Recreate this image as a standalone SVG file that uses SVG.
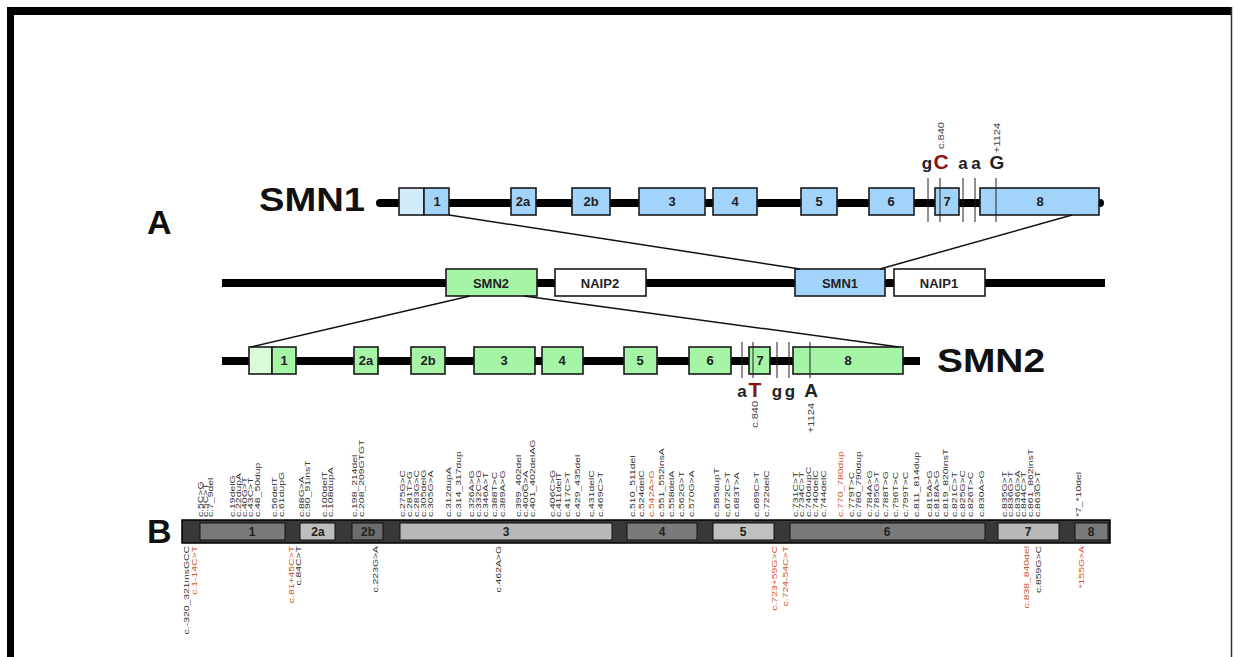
<svg xmlns="http://www.w3.org/2000/svg" width="1234" height="657" viewBox="0 0 1234 657">
<style>
text{font-family:"Liberation Sans",Arial,sans-serif}
.big{font-size:34px;font-weight:bold;fill:#111}
.ex{font-size:13px;font-weight:bold;fill:#222;text-anchor:middle}
.bx{font-size:13px;font-weight:bold;fill:#222;text-anchor:middle}
.b1{fill:#a2d4fb;stroke:#1a1a1a;stroke-width:1.6}
.b1l{fill:#d2ebfd;stroke:#1a1a1a;stroke-width:1.6}
.g1{fill:#a6f5a6;stroke:#1a1a1a;stroke-width:1.6}
.g1l{fill:#d9fbd9;stroke:#1a1a1a;stroke-width:1.6}
.w1{fill:#fff;stroke:#1a1a1a;stroke-width:1.6}
.chr{stroke:#000;stroke-width:8}
.vl{stroke:#222;stroke-width:1}
.nt{font-size:17px;font-weight:bold;fill:#222;text-anchor:middle}
.ntr{font-size:21px;font-weight:bold;fill:#8b1010;text-anchor:middle}
.pos{font-size:10px;fill:#444}
.m{font-size:8px;fill:#333}
.r{font-size:8px;fill:#d2552a}
.bn{font-size:12px;font-weight:bold;fill:#222;text-anchor:middle}
.conn{stroke:#111;stroke-width:1.5;fill:none}
</style>
<rect width="1234" height="657" fill="#fff"/>
<g id="frame">
<rect x="7" y="7" width="1225" height="8" fill="#000"/>
<rect x="7" y="7" width="7" height="650" fill="#000"/>
<line x1="1231.5" y1="7" x2="1231.5" y2="657" stroke="#333" stroke-width="1.5"/>
</g>
<text class="big" x="147" y="234">A</text>
<text class="big" x="147" y="543">B</text>

<g id="smn1-gene">
<line class="chr" x1="380" y1="203" x2="1100" y2="203" stroke-linecap="round"/>
<text class="big" x="259" y="211" textLength="106" lengthAdjust="spacingAndGlyphs">SMN1</text>
<rect class="b1l" x="399" y="188" width="25" height="27"/>
<rect class="b1" x="424" y="188" width="25" height="27"/><text class="ex" x="437" y="206">1</text>
<rect class="b1" x="511" y="188" width="25" height="27"/><text class="ex" x="523" y="206">2a</text>
<rect class="b1" x="572" y="188" width="38" height="27"/><text class="ex" x="591" y="206">2b</text>
<rect class="b1" x="639" y="188" width="66" height="27"/><text class="ex" x="672" y="206">3</text>
<rect class="b1" x="713" y="188" width="44" height="27"/><text class="ex" x="735" y="206">4</text>
<rect class="b1" x="801" y="188" width="36" height="27"/><text class="ex" x="819" y="206">5</text>
<rect class="b1" x="869" y="188" width="45" height="27"/><text class="ex" x="891" y="206">6</text>
<rect class="b1" x="935" y="188" width="24" height="27"/><text class="ex" x="947" y="206">7</text>
<rect class="b1" x="980" y="188" width="119" height="27"/><text class="ex" x="1040" y="206">8</text>
<line class="vl" x1="928" y1="178" x2="928" y2="222"/>
<line class="vl" x1="940" y1="178" x2="940" y2="222"/>
<line class="vl" x1="963" y1="178" x2="963" y2="222"/>
<line class="vl" x1="975" y1="178" x2="975" y2="222"/>
<line class="vl" x1="996" y1="178" x2="996" y2="222"/>
<text class="nt" x="927" y="169">g</text>
<text class="ntr" x="941" y="169">C</text>
<text class="nt" x="963" y="169">a</text>
<text class="nt" x="976" y="169">a</text>
<text class="nt" x="997" y="169" style="font-size:19px">G</text>
<text class="pos" transform="translate(944,149) rotate(-90) scale(1.1,0.85)">c.840</text>
<text class="pos" transform="translate(1000,153) rotate(-90) scale(1.1,0.85)">+1124</text>
</g>

<g id="region">
<line class="chr" x1="222" y1="283" x2="1105" y2="283" stroke-width="7"/>
</g>
<g id="box-smn2"><rect class="g1" x="446" y="269" width="91" height="27"/><text class="bx" x="491" y="288">SMN2</text></g>
<g id="box-naip2"><rect class="w1" x="555" y="269" width="91" height="27"/><text class="bx" x="600" y="288">NAIP2</text></g>
<g id="box-smn1"><rect class="b1" x="795" y="269" width="90" height="27"/><text class="bx" x="840" y="288">SMN1</text></g>
<g id="box-naip1"><rect class="w1" x="894" y="269" width="91" height="27"/><text class="bx" x="939" y="288">NAIP1</text></g>

<g id="smn2-gene">
<line class="chr" x1="222" y1="361" x2="920" y2="361"/>
<text class="big" x="937" y="372" textLength="108" lengthAdjust="spacingAndGlyphs">SMN2</text>
<rect class="g1l" x="249" y="347" width="23" height="27"/>
<rect class="g1" x="272" y="347" width="24" height="27"/><text class="ex" x="284" y="365">1</text>
<rect class="g1" x="354" y="347" width="24" height="27"/><text class="ex" x="366" y="365">2a</text>
<rect class="g1" x="411" y="347" width="34" height="27"/><text class="ex" x="428" y="365">2b</text>
<rect class="g1" x="474" y="347" width="61" height="27"/><text class="ex" x="504" y="365">3</text>
<rect class="g1" x="542" y="347" width="41" height="27"/><text class="ex" x="562" y="365">4</text>
<rect class="g1" x="624" y="347" width="33" height="27"/><text class="ex" x="640" y="365">5</text>
<rect class="g1" x="689" y="347" width="42" height="27"/><text class="ex" x="710" y="365">6</text>
<rect class="g1" x="749" y="347" width="21" height="27"/><text class="ex" x="760" y="365">7</text>
<rect class="g1" x="793" y="347" width="110" height="27"/><text class="ex" x="848" y="365">8</text>
<line class="vl" x1="742" y1="342" x2="742" y2="378"/>
<line class="vl" x1="753" y1="342" x2="753" y2="378"/>
<line class="vl" x1="777" y1="342" x2="777" y2="378"/>
<line class="vl" x1="789" y1="342" x2="789" y2="378"/>
<line class="vl" x1="810" y1="342" x2="810" y2="378"/>
<text class="nt" x="742" y="397">a</text>
<text class="ntr" x="755" y="397">T</text>
<text class="nt" x="777" y="397">g</text>
<text class="nt" x="790" y="397">g</text>
<text class="nt" x="811" y="397" style="font-size:19px">A</text>
<text class="pos" text-anchor="end" transform="translate(758,401) rotate(-90) scale(1.1,0.85)">c.840</text>
<text class="pos" text-anchor="end" transform="translate(814,403) rotate(-90) scale(1.1,0.85)">+1124</text>
</g>

<g id="connectors">
<line class="conn" x1="449" y1="215" x2="800" y2="269"/>
<line class="conn" x1="1072" y1="215" x2="880" y2="269"/>
<line class="conn" x1="470" y1="296" x2="251" y2="347"/>
<line class="conn" x1="524" y1="296" x2="899" y2="347"/>
</g>

<g id="smn1-map">
<rect x="182" y="520" width="928" height="23" fill="#383838" stroke="#000" stroke-width="1.5"/>
<g stroke="#111" stroke-width="1">
<rect x="200" y="523" width="85" height="17" fill="#7a7a7a"/>
<rect x="300" y="523" width="35" height="17" fill="#bdbdbd"/>
<rect x="352" y="523" width="31" height="17" fill="#6c6c6c"/>
<rect x="400" y="523" width="212" height="17" fill="#b8b8b8"/>
<rect x="627" y="523" width="70" height="17" fill="#7a7a7a"/>
<rect x="713" y="523" width="61" height="17" fill="#c0c0c0"/>
<rect x="790" y="523" width="195" height="17" fill="#7a7a7a"/>
<rect x="998" y="523" width="61" height="17" fill="#b8b8b8"/>
<rect x="1075" y="523" width="33" height="17" fill="#7a7a7a"/>
</g>
<text class="bn" x="252" y="536">1</text>
<text class="bn" x="318" y="536">2a</text>
<text class="bn" x="368" y="536">2b</text>
<text class="bn" x="506" y="536">3</text>
<text class="bn" x="662" y="536">4</text>
<text class="bn" x="743" y="536">5</text>
<text class="bn" x="887" y="536">6</text>
<text class="bn" x="1028" y="536">7</text>
<text class="bn" x="1091" y="536">8</text>
</g>

<g id="labels-above">
<text class="m" transform="translate(203,517) rotate(-90) scale(1.3,0.9)">c.5C&gt;G</text>
<text class="m" transform="translate(208,517) rotate(-90) scale(1.3,0.9)">c.5C&gt;T</text>
<text class="m" transform="translate(213,517) rotate(-90) scale(1.3,0.9)">c.7_9del</text>
<text class="m" transform="translate(235,517) rotate(-90) scale(1.3,0.9)">c.19delG</text>
<text class="m" transform="translate(241,517) rotate(-90) scale(1.3,0.9)">c.22dupA</text>
<text class="m" transform="translate(247,517) rotate(-90) scale(1.3,0.9)">c.40G&gt;T</text>
<text class="m" transform="translate(253,517) rotate(-90) scale(1.3,0.9)">c.43C&gt;T</text>
<text class="m" transform="translate(260,517) rotate(-90) scale(1.3,0.9)">c.48_50dup</text>
<text class="m" transform="translate(277,517) rotate(-90) scale(1.3,0.9)">c.56delT</text>
<text class="m" transform="translate(284,517) rotate(-90) scale(1.3,0.9)">c.61dupG</text>
<text class="m" transform="translate(304,517) rotate(-90) scale(1.3,0.9)">c.88G&gt;A</text>
<text class="m" transform="translate(310,517) rotate(-90) scale(1.3,0.9)">c.90_91insT</text>
<text class="m" transform="translate(327,517) rotate(-90) scale(1.3,0.9)">c.100delT</text>
<text class="m" transform="translate(333,517) rotate(-90) scale(1.3,0.9)">c.108dupA</text>
<text class="m" transform="translate(357,517) rotate(-90) scale(1.3,0.9)">c.198_214del</text>
<text class="m" transform="translate(364,517) rotate(-90) scale(1.3,0.9)">c.208_209GTGT</text>
<text class="m" transform="translate(405,517) rotate(-90) scale(1.3,0.9)">c.275G&gt;C</text>
<text class="m" transform="translate(412,517) rotate(-90) scale(1.3,0.9)">c.281T&gt;G</text>
<text class="m" transform="translate(419,517) rotate(-90) scale(1.3,0.9)">c.283G&gt;C</text>
<text class="m" transform="translate(426,517) rotate(-90) scale(1.3,0.9)">c.305delG</text>
<text class="m" transform="translate(433,517) rotate(-90) scale(1.3,0.9)">c.305G&gt;A</text>
<text class="m" transform="translate(451,517) rotate(-90) scale(1.3,0.9)">c.312dupA</text>
<text class="m" transform="translate(461,517) rotate(-90) scale(1.3,0.9)">c.314_317dup</text>
<text class="m" transform="translate(474,517) rotate(-90) scale(1.3,0.9)">c.326A&gt;G</text>
<text class="m" transform="translate(481,517) rotate(-90) scale(1.3,0.9)">c.332C&gt;G</text>
<text class="m" transform="translate(488,517) rotate(-90) scale(1.3,0.9)">c.346A&gt;T</text>
<text class="m" transform="translate(497,517) rotate(-90) scale(1.3,0.9)">c.388T&gt;C</text>
<text class="m" transform="translate(505,517) rotate(-90) scale(1.3,0.9)">c.389A&gt;G</text>
<text class="m" transform="translate(521,517) rotate(-90) scale(1.3,0.9)">c.399_402del</text>
<text class="m" transform="translate(528,517) rotate(-90) scale(1.3,0.9)">c.400G&gt;A</text>
<text class="m" transform="translate(535,517) rotate(-90) scale(1.3,0.9)">c.401_402delAG</text>
<text class="m" transform="translate(555,517) rotate(-90) scale(1.3,0.9)">c.406C&gt;G</text>
<text class="m" transform="translate(561,517) rotate(-90) scale(1.3,0.9)">c.411delT</text>
<text class="m" transform="translate(570,517) rotate(-90) scale(1.3,0.9)">c.417C&gt;T</text>
<text class="m" transform="translate(580,517) rotate(-90) scale(1.3,0.9)">c.429_435del</text>
<text class="m" transform="translate(594,517) rotate(-90) scale(1.3,0.9)">c.431delC</text>
<text class="m" transform="translate(603,517) rotate(-90) scale(1.3,0.9)">c.469C&gt;T</text>
<text class="m" transform="translate(635,517) rotate(-90) scale(1.3,0.9)">c.510_511del</text>
<text class="m" transform="translate(644,517) rotate(-90) scale(1.3,0.9)">c.524delC</text>
<text class="r" transform="translate(654,517) rotate(-90) scale(1.3,0.9)">c.542A&gt;G</text>
<text class="m" transform="translate(664,517) rotate(-90) scale(1.3,0.9)">c.551_552insA</text>
<text class="m" transform="translate(674,517) rotate(-90) scale(1.3,0.9)">c.558delA</text>
<text class="m" transform="translate(684,517) rotate(-90) scale(1.3,0.9)">c.562G&gt;T</text>
<text class="m" transform="translate(694,517) rotate(-90) scale(1.3,0.9)">c.570G&gt;A</text>
<text class="m" transform="translate(719,517) rotate(-90) scale(1.3,0.9)">c.585dupT</text>
<text class="m" transform="translate(730,517) rotate(-90) scale(1.3,0.9)">c.672C&gt;T</text>
<text class="m" transform="translate(739,517) rotate(-90) scale(1.3,0.9)">c.683T&gt;A</text>
<text class="m" transform="translate(759,517) rotate(-90) scale(1.3,0.9)">c.689C&gt;T</text>
<text class="m" transform="translate(769,517) rotate(-90) scale(1.3,0.9)">c.722delC</text>
<text class="m" transform="translate(798,517) rotate(-90) scale(1.3,0.9)">c.731C&gt;T</text>
<text class="m" transform="translate(804,517) rotate(-90) scale(1.3,0.9)">c.734C&gt;T</text>
<text class="m" transform="translate(811,517) rotate(-90) scale(1.3,0.9)">c.740dupC</text>
<text class="m" transform="translate(818,517) rotate(-90) scale(1.3,0.9)">c.740delC</text>
<text class="m" transform="translate(826,517) rotate(-90) scale(1.3,0.9)">c.744delC</text>
<text class="r" transform="translate(843,517) rotate(-90) scale(1.3,0.9)">c.770_780dup</text>
<text class="m" transform="translate(854,517) rotate(-90) scale(1.3,0.9)">c.779T&gt;C</text>
<text class="m" transform="translate(861,517) rotate(-90) scale(1.3,0.9)">c.780_790dup</text>
<text class="m" transform="translate(872,517) rotate(-90) scale(1.3,0.9)">c.784A&gt;G</text>
<text class="m" transform="translate(879,517) rotate(-90) scale(1.3,0.9)">c.785G&gt;T</text>
<text class="m" transform="translate(888,517) rotate(-90) scale(1.3,0.9)">c.788T&gt;G</text>
<text class="m" transform="translate(898,517) rotate(-90) scale(1.3,0.9)">c.796T&gt;C</text>
<text class="m" transform="translate(908,517) rotate(-90) scale(1.3,0.9)">c.799T&gt;C</text>
<text class="m" transform="translate(919,517) rotate(-90) scale(1.3,0.9)">c.811_814dup</text>
<text class="m" transform="translate(932,517) rotate(-90) scale(1.3,0.9)">c.815A&gt;G</text>
<text class="m" transform="translate(939,517) rotate(-90) scale(1.3,0.9)">c.818A&gt;G</text>
<text class="m" transform="translate(948,517) rotate(-90) scale(1.3,0.9)">c.819_820insT</text>
<text class="m" transform="translate(957,517) rotate(-90) scale(1.3,0.9)">c.821C&gt;T</text>
<text class="m" transform="translate(965,517) rotate(-90) scale(1.3,0.9)">c.825G&gt;C</text>
<text class="m" transform="translate(973,517) rotate(-90) scale(1.3,0.9)">c.826T&gt;C</text>
<text class="m" transform="translate(984,517) rotate(-90) scale(1.3,0.9)">c.830A&gt;G</text>
<text class="m" transform="translate(1007,517) rotate(-90) scale(1.3,0.9)">c.835G&gt;T</text>
<text class="m" transform="translate(1013,517) rotate(-90) scale(1.3,0.9)">c.836G&gt;T</text>
<text class="m" transform="translate(1020,517) rotate(-90) scale(1.3,0.9)">c.836G&gt;A</text>
<text class="m" transform="translate(1026,517) rotate(-90) scale(1.3,0.9)">c.844C&gt;T</text>
<text class="m" transform="translate(1033,517) rotate(-90) scale(1.3,0.9)">c.861_862insT</text>
<text class="m" transform="translate(1040,517) rotate(-90) scale(1.3,0.9)">c.863G&gt;T</text>
<text class="m" transform="translate(1081,517) rotate(-90) scale(1.3,0.9)">*7_*10del</text>
</g>

<g id="labels-below" text-anchor="end">
<text class="m" transform="translate(189,546) rotate(-90) scale(1.3,0.9)">c.-320_321insGCC</text>
<text class="r" transform="translate(197,546) rotate(-90) scale(1.3,0.9)">c.1-14C&gt;T</text>
<text class="r" transform="translate(294,546) rotate(-90) scale(1.3,0.9)">c.81+45C&gt;T</text>
<text class="m" transform="translate(301,546) rotate(-90) scale(1.3,0.9)">c.84C&gt;T</text>
<text class="m" transform="translate(378,546) rotate(-90) scale(1.3,0.9)">c.223G&gt;A</text>
<text class="m" transform="translate(501,546) rotate(-90) scale(1.3,0.9)">c.462A&gt;G</text>
<text class="r" transform="translate(777,546) rotate(-90) scale(1.3,0.9)">c.723+59G&gt;C</text>
<text class="r" transform="translate(788,546) rotate(-90) scale(1.3,0.9)">c.724-54C&gt;T</text>
<text class="r" transform="translate(1029,546) rotate(-90) scale(1.3,0.9)">c.838_840del</text>
<text class="m" transform="translate(1041,546) rotate(-90) scale(1.3,0.9)">c.859G&gt;C</text>
<text class="r" transform="translate(1084,546) rotate(-90) scale(1.3,0.9)">*155G&gt;A</text>
</g>
</svg>
